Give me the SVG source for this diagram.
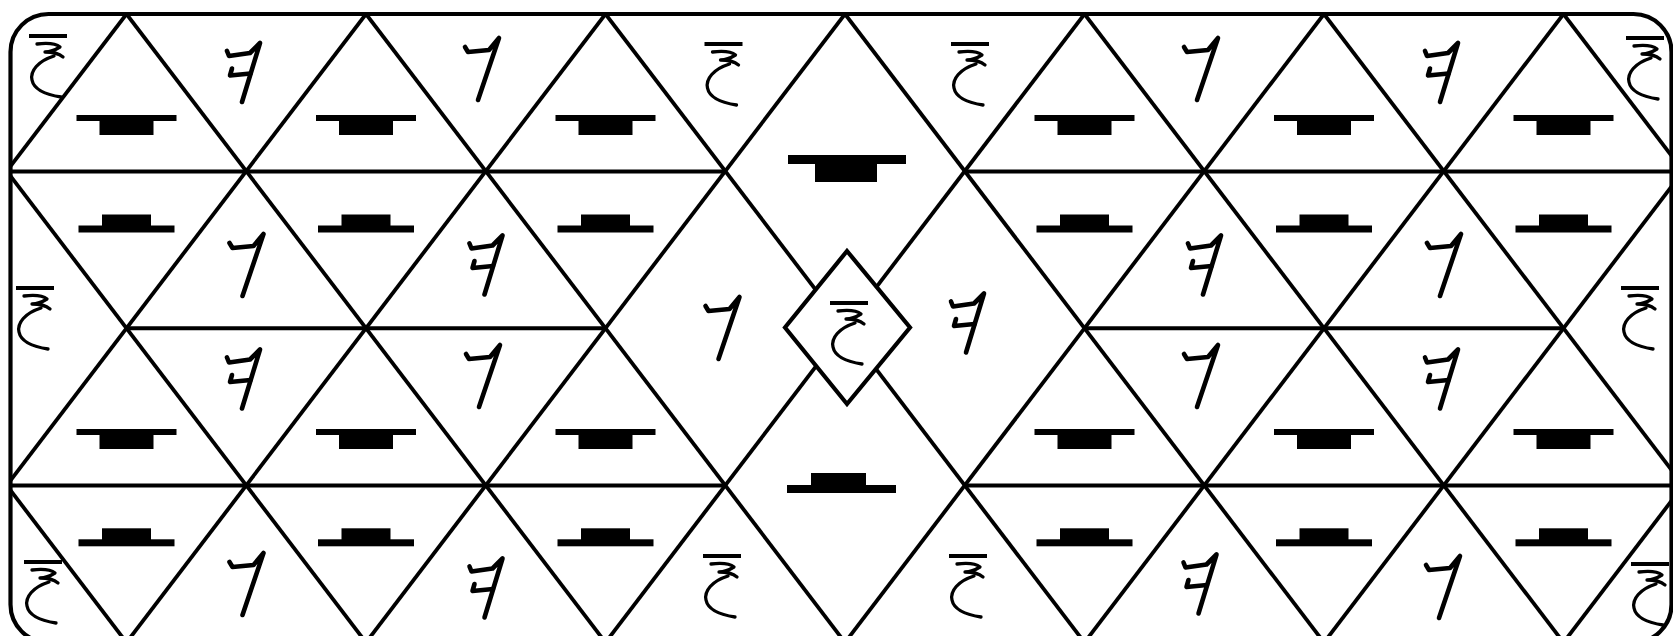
<svg xmlns="http://www.w3.org/2000/svg" xmlns:xlink="http://www.w3.org/1999/xlink" width="1673" height="636" viewBox="0 0 1673 636">
<style>
.ln{stroke:#000;stroke-width:3.8;fill:none;stroke-linecap:butt}
.hz{stroke-width:4.2}
.frame{fill:none;stroke:#000;stroke-width:4.2}
.dia{fill:#fff;stroke:#000;stroke-width:4.2;stroke-linejoin:miter}
.gA{fill:none;stroke:#000;stroke-width:3.3;stroke-linecap:round;stroke-linejoin:round}
.gBC{fill:none;stroke:#000;stroke-width:4.6;stroke-linecap:round;stroke-linejoin:round}
.hat{fill:#000}
</style>
<defs>
<clipPath id="fr"><rect x="10.5" y="14" width="1661" height="628.5" rx="38"/></clipPath>
<g id="xi" class="gA">
<path d="M-19,-30 L19,-30" style="stroke-width:4;stroke-linecap:butt"/>
<path d="M-11,-22 Q6,-24 12,-19 Q4,-14 -3,-14 Q9,-14 15,-9"/>
<path d="M6,-10 C-10,-5 -18,5 -16,14 C-14,24 0,29 13,31"/>
</g>
<g id="sev" class="gBC">
<path d="M-17,-22 L-14,-17 L7,-19 L17,-31 L-4,31"/>
</g>
<g id="loop" class="gBC">
<path d="M-16.5,-21.5 L-14.5,-16.5 L6.5,-19.5 L16.5,-29.5 L-1.5,29.5"/>
<path d="M-11.5,-4 L-13.5,3 L7,1"/>
</g>
<g id="hatUp" class="hat">
<rect x="-50" y="0" width="100" height="6"/>
<rect x="-27" y="0" width="54" height="20"/>
</g>
<g id="hatDown" class="hat">
<rect x="-24.5" y="0" width="49" height="12"/>
<rect x="-48" y="11" width="96" height="7"/>
</g>
</defs>
<rect x="0" y="0" width="1673" height="636" fill="#fff"/>

<g id="connectors" clip-path="url(#fr)">
<g id="diag-down-right">
<line class="ln" x1="-352.5" y1="14" x2="126.5" y2="642.5"/>
<line class="ln" x1="-113" y1="14" x2="366" y2="642.5"/>
<line class="ln" x1="126.5" y1="14" x2="605.5" y2="642.5"/>
<line class="ln" x1="366" y1="14" x2="845" y2="642.5"/>
<line class="ln" x1="605.5" y1="14" x2="1084.5" y2="642.5"/>
<line class="ln" x1="845" y1="14" x2="1324" y2="642.5"/>
<line class="ln" x1="1084.5" y1="14" x2="1563.5" y2="642.5"/>
<line class="ln" x1="1324" y1="14" x2="1803" y2="642.5"/>
<line class="ln" x1="1563.5" y1="14" x2="2042.5" y2="642.5"/>
</g>
<g id="diag-down-left">
<line class="ln" x1="126.5" y1="14" x2="-352.5" y2="642.5"/>
<line class="ln" x1="366" y1="14" x2="-113" y2="642.5"/>
<line class="ln" x1="605.5" y1="14" x2="126.5" y2="642.5"/>
<line class="ln" x1="845" y1="14" x2="366" y2="642.5"/>
<line class="ln" x1="1084.5" y1="14" x2="605.5" y2="642.5"/>
<line class="ln" x1="1324" y1="14" x2="845" y2="642.5"/>
<line class="ln" x1="1563.5" y1="14" x2="1084.5" y2="642.5"/>
<line class="ln" x1="1803" y1="14" x2="1324" y2="642.5"/>
<line class="ln" x1="2042.5" y1="14" x2="1563.5" y2="642.5"/>
</g>
<g id="horizontals">
<line class="ln hz" x1="10.5" y1="171.5" x2="725.25" y2="171.5"/>
<line class="ln hz" x1="964.75" y1="171.5" x2="1671.5" y2="171.5"/>
<line class="ln hz" x1="126.5" y1="328.25" x2="605.5" y2="328.25"/>
<line class="ln hz" x1="1084.5" y1="328.25" x2="1563.5" y2="328.25"/>
<line class="ln hz" x1="10.5" y1="485.5" x2="725.25" y2="485.5"/>
<line class="ln hz" x1="964.75" y1="485.5" x2="1671.5" y2="485.5"/>
</g>
</g>

<g id="frame"><rect class="frame" x="10.5" y="14" width="1661" height="628.5" rx="38"/></g>

<g id="center-diamond">
<polygon class="dia" points="847,251 910,327.5 847,404 785,327.5"/>
<use xlink:href="#xi" href="#xi" transform="translate(849,333)"/>
</g>

<g id="hats-row0">
<use href="#hatUp" xlink:href="#hatUp" transform="translate(126.5,115)"/>
<use href="#hatUp" xlink:href="#hatUp" transform="translate(366,115)"/>
<use href="#hatUp" xlink:href="#hatUp" transform="translate(605.5,115)"/>
<use href="#hatUp" xlink:href="#hatUp" transform="translate(1084.5,115)"/>
<use href="#hatUp" xlink:href="#hatUp" transform="translate(1324,115)"/>
<use href="#hatUp" xlink:href="#hatUp" transform="translate(1563.5,115)"/>
</g>
<g id="hats-row1">
<use href="#hatDown" xlink:href="#hatDown" transform="translate(126.5,214.5)"/>
<use href="#hatDown" xlink:href="#hatDown" transform="translate(366,214.5)"/>
<use href="#hatDown" xlink:href="#hatDown" transform="translate(605.5,214.5)"/>
<use href="#hatDown" xlink:href="#hatDown" transform="translate(1084.5,214.5)"/>
<use href="#hatDown" xlink:href="#hatDown" transform="translate(1324,214.5)"/>
<use href="#hatDown" xlink:href="#hatDown" transform="translate(1563.5,214.5)"/>
</g>
<g id="hats-row2">
<use href="#hatUp" xlink:href="#hatUp" transform="translate(126.5,429)"/>
<use href="#hatUp" xlink:href="#hatUp" transform="translate(366,429)"/>
<use href="#hatUp" xlink:href="#hatUp" transform="translate(605.5,429)"/>
<use href="#hatUp" xlink:href="#hatUp" transform="translate(1084.5,429)"/>
<use href="#hatUp" xlink:href="#hatUp" transform="translate(1324,429)"/>
<use href="#hatUp" xlink:href="#hatUp" transform="translate(1563.5,429)"/>
</g>
<g id="hats-row3">
<use href="#hatDown" xlink:href="#hatDown" transform="translate(126.5,528.3)"/>
<use href="#hatDown" xlink:href="#hatDown" transform="translate(366,528.3)"/>
<use href="#hatDown" xlink:href="#hatDown" transform="translate(605.5,528.3)"/>
<use href="#hatDown" xlink:href="#hatDown" transform="translate(1084.5,528.3)"/>
<use href="#hatDown" xlink:href="#hatDown" transform="translate(1324,528.3)"/>
<use href="#hatDown" xlink:href="#hatDown" transform="translate(1563.5,528.3)"/>
</g>
<g id="hat-center-top" class="hat">
<rect x="788" y="155" width="118" height="9"/>
<rect x="815" y="155" width="62" height="27"/>
</g>
<g id="hat-center-bottom" class="hat">
<rect x="811" y="473" width="55" height="13"/>
<rect x="787" y="485" width="109" height="8"/>
</g>

<g id="xi-marks">
<use href="#xi" xlink:href="#xi" transform="translate(48,66)"/>
<use href="#xi" xlink:href="#xi" transform="translate(723.5,74)"/>
<use href="#xi" xlink:href="#xi" transform="translate(970,74)"/>
<use href="#xi" xlink:href="#xi" transform="translate(1645,68)"/>
<use href="#xi" xlink:href="#xi" transform="translate(35,318)"/>
<use href="#xi" xlink:href="#xi" transform="translate(1640,318)"/>
<use href="#xi" xlink:href="#xi" transform="translate(43,592)"/>
<use href="#xi" xlink:href="#xi" transform="translate(722,586)"/>
<use href="#xi" xlink:href="#xi" transform="translate(968,586)"/>
<use href="#xi" xlink:href="#xi" transform="translate(1650,594)"/>
</g>
<g id="seven-marks">
<use href="#sev" xlink:href="#sev" transform="translate(482,69)"/>
<use href="#sev" xlink:href="#sev" transform="translate(1201,69)"/>
<use href="#sev" xlink:href="#sev" transform="translate(246.5,265)"/>
<use href="#sev" xlink:href="#sev" transform="translate(1444,265)"/>
<use href="#sev" xlink:href="#sev" transform="translate(722.5,328)"/>
<use href="#sev" xlink:href="#sev" transform="translate(483,376)"/>
<use href="#sev" xlink:href="#sev" transform="translate(1201,376)"/>
<use href="#sev" xlink:href="#sev" transform="translate(246.5,584)"/>
<use href="#sev" xlink:href="#sev" transform="translate(1443,587)"/>
</g>
<g id="loop-marks">
<use href="#loop" xlink:href="#loop" transform="translate(243.5,72.5)"/>
<use href="#loop" xlink:href="#loop" transform="translate(1441.5,72.5)"/>
<use href="#loop" xlink:href="#loop" transform="translate(486,265)"/>
<use href="#loop" xlink:href="#loop" transform="translate(1204.5,265)"/>
<use href="#loop" xlink:href="#loop" transform="translate(967.5,323)"/>
<use href="#loop" xlink:href="#loop" transform="translate(243.5,379)"/>
<use href="#loop" xlink:href="#loop" transform="translate(1441.5,379)"/>
<use href="#loop" xlink:href="#loop" transform="translate(486,588)"/>
<use href="#loop" xlink:href="#loop" transform="translate(1200,584)"/>
</g>
</svg>
